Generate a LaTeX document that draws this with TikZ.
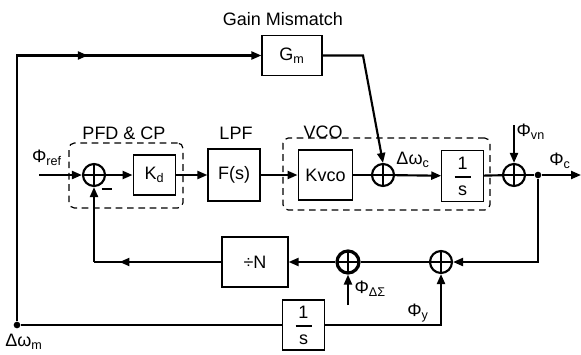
\documentclass[tikz,border=0pt]{standalone}
\usepackage{fontspec}
\setmainfont{Liberation Sans}
\usetikzlibrary{arrows.meta,decorations.markings}
\newcommand{\phs}[1]{Φ\textsubscript{#1}}
\newcommand{\ovs}{$\displaystyle{\mbox{\,1\,}\above 1.1pt\mbox{s}}$}
\tikzset{
  blk/.style={draw, line width=0.9pt, inner sep=2pt, align=center},
  grp/.style={draw, dashed, dash pattern=on 5pt off 3.5pt, line width=0.9pt, rounded corners=4pt},
  sumnode/.style={circle, draw, line width=1.6pt, minimum size=16.5pt, inner sep=0pt,
    path picture={\draw[line width=1.6pt] (path picture bounding box.north) -- (path picture bounding box.south)
      (path picture bounding box.west) -- (path picture bounding box.east);}},
  wire/.style={line width=1.6pt},
  sig/.style={wire, -{Triangle[length=7.5pt,width=6pt]}},
  marr/.style={postaction={decorate}, decoration={markings,
    mark=at position #1 with {\arrow{Triangle[length=7.5pt,width=6pt]}}}},
  dot/.style={circle, fill, inner sep=0pt, minimum size=5pt},
  txt/.style={inner sep=1pt},
}
\begin{document}
\begin{tikzpicture}[x=0.75pt, y=-0.75pt, font=\fontsize{13.5}{15}\selectfont]
\useasboundingbox (0,0) rectangle (581,354);

% forward path
\node[sumnode] (s1) at (94,175) {};
\node[blk, minimum width=32pt, minimum height=30pt] (kd) at (154.5,175) {K\textsubscript{d}};
\node[blk, minimum width=39pt, minimum height=39pt] (fs) at (234,175) {F(s)};
\node[blk, minimum width=41pt, minimum height=37.5pt] (kvco) at (325.5,175) {Kvco};
\node[sumnode] (s2) at (383,175) {};
\node[blk, minimum width=31pt, minimum height=38pt] (int1) at (462.5,176) {\ovs};
\node[sumnode] (s4) at (514,175) {};
\node[dot] (tap) at (538,175) {};
\coordinate (out) at (581,175);
\coordinate (in) at (39,175);
\coordinate (vn) at (514,125);

% groups
\node[grp, minimum width=85.5pt, minimum height=48.75pt] (pfd) at (126,175.5) {};
\node[grp, minimum width=155.25pt, minimum height=54pt] (vco) at (386.5,174) {};
\node[txt] (pfdl) at (124,133) {PFD \& CP};
\node[txt] (lpfl) at (236,133) {LPF};
\node[txt] (vcol) at (323,132) {VCO};

% gain mismatch path
\node[blk, minimum width=45pt, minimum height=29.5pt] (gm) at (292,55.5) {G\textsubscript{m}};
\node[txt] (gml) at (283,19) {Gain Mismatch};
\coordinate (gmc) at (363,55.5);

% feedback
\node[blk, minimum width=49.5pt, minimum height=37.5pt] (divn) at (255,262) {÷N};
\node[sumnode, line width=2.4pt] (s3) at (348,262) {};
\node[sumnode] (s5) at (441,262) {};
\node[blk, minimum width=31pt, minimum height=37.5pt] (int2) at (303.5,325) {\ovs};
\coordinate (fbl) at (94,262);
\coordinate (fbr) at (538,262);
\coordinate (dsig) at (348,305);
\node[dot] (dm) at (17,325) {};

% labels
\node[txt] (lref) at (47,158) {\phs{ref}};
\node[txt, anchor=west] (lvn) at (515,132) {\phs{vn}};
\node[txt] (lc) at (560,161) {\phs{c}};
\node[txt] (lwc) at (413,160) {Δω\textsubscript{c}};
\node[txt, anchor=west] (lds) at (353,289) {\phs{ΔΣ}};
\node[txt] (ly) at (418,313) {\phs{y}};
\node[txt] (lwm) at (24,342) {Δω\textsubscript{m}};
\node[txt] (minus) at (107,189) {\rule{8pt}{1.6pt}};

% connectors
\draw[sig] (in) -- (s1.west);
\draw[sig] (s1) -- (kd);
\draw[sig] (kd) -- (fs);
\draw[sig] (fs) -- (kvco);
\draw[wire] (kvco) -- (s2);
\draw[sig] (s2) -- (int1);
\draw[wire] (int1) -- (s4);
\draw[wire] (s4) -- (tap);
\draw[sig] (tap) -- (out);
\draw[sig] (vn) -- (s4.north);
\draw[sig] (gm.east) -- (gmc) -- (s2.north);
\draw[sig, marr=0.66] (dm) |- (gm.west);
\draw[sig] (tap) -- (fbr) -- (s5.east);
\draw[wire] (s5) -- (s3);
\draw[sig] (s3) -- (divn);
\draw[wire, marr=0.8] (divn.west) -- (fbl);
\draw[sig] (fbl) -- (s1.south);
\draw[sig] (dsig) -- (s3.south);
\draw[wire] (dm) -- (int2.west);
\draw[sig] (int2.east) -| (s5.south);
\end{tikzpicture}
\end{document}
